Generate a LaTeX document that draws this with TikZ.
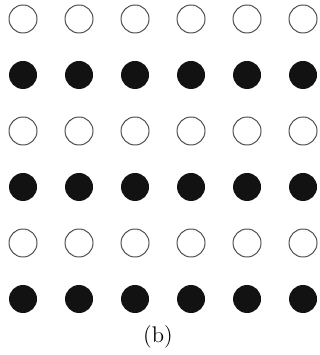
\documentclass[tikz,border=0pt]{standalone}
\begin{document}
\begin{tikzpicture}[
	open/.style={circle, minimum size=0.5cm, inner sep=0pt, draw=black!70, line width=0.5pt, fill=white},
	full/.style={circle, minimum size=0.5cm, inner sep=0pt, fill=black!93}]
	\useasboundingbox (0,0) rectangle (5.714,-6.339);
	\foreach \j in {0,...,5}{
		\foreach \i in {0,...,5}{
			\pgfmathtruncatemacro{\rowodd}{mod(\j,2)}
			\ifnum\rowodd=0
				\draw (0.411+\i,-0.339-\j) node[open] (P\i\j) {};
			\else
				\draw (0.411+\i,-0.339-\j) node[full] (P\i\j) {};
			\fi
		}
	}
	\draw (2.82,-6.02) node[font=\fontsize{11.5}{14}\selectfont] (lab) {(b)};
\end{tikzpicture}
\end{document}
